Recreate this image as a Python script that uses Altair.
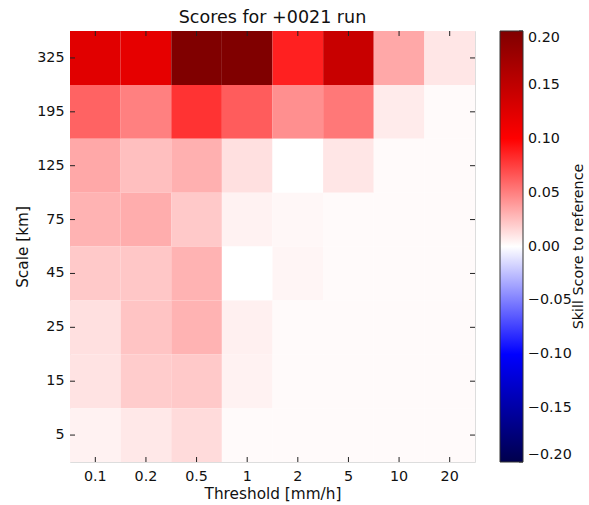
import altair as alt
import pandas as pd

thresholds = ["0.1", "0.2", "0.5", "1", "2", "5", "10", "20"]
scales = ["325", "195", "125", "75", "45", "25", "15", "5"]

row_325 = [0.124, 0.120, 0.210, 0.210, 0.0875, 0.143, 0.034, 0.010]
row_195 = [0.061, 0.050, 0.080, 0.064, 0.044, 0.053, 0.008, 0.002]
row_125 = [0.034, 0.025, 0.031, 0.012, 0.000, 0.010, 0.002, 0.002]
row_75 = [0.030, 0.032, 0.021, 0.005, 0.003, 0.002, 0.002, 0.002]
row_45 = [0.021, 0.022, 0.030, 0.000, 0.004, 0.002, 0.002, 0.002]
row_25 = [0.012, 0.023, 0.030, 0.006, 0.002, 0.002, 0.002, 0.002]
row_15 = [0.011, 0.020, 0.021, 0.005, 0.002, 0.002, 0.002, 0.002]
row_5 = [0.005, 0.009, 0.014, 0.002, 0.002, 0.002, 0.002, 0.002]

rows = [row_325, row_195, row_125, row_75, row_45, row_25, row_15, row_5]

legend_values = [-0.2, -0.15, -0.1, -0.05, 0.0, 0.05, 0.1, 0.15, 0.2]
cmap_domain = [-0.2, -0.1, 0.0, 0.1, 0.2]
cmap_colors = ["#00004c", "#0000ff", "#ffffff", "#ff0000", "#800000"]

records = []
for s, vals in zip(scales, rows):
    for t, v in zip(thresholds, vals):
        records.append({"threshold": t, "scale": s, "value": v})
df = pd.DataFrame(records)

W, H = 405, 431
FONT = "DejaVu Sans"
TXT = "#111111"
LS = 14.3
CB_X = 430
CB_W = 23

xenc = alt.X("threshold:O", sort=thresholds, title="Threshold [mm/h]",
             scale=alt.Scale(paddingInner=0, paddingOuter=0),
             axis=alt.Axis(labelAngle=0, ticks=False, domain=False, labelPadding=7,
                           titlePadding=3, labelFontSize=LS, titleFontSize=15.3,
                           labelColor=TXT, titleColor=TXT, titleFontWeight="normal"))
yenc = alt.Y("scale:O", sort=scales, title="Scale [km]",
             scale=alt.Scale(paddingInner=0, paddingOuter=0),
             axis=alt.Axis(ticks=False, domain=False, labelPadding=6, titlePadding=6,
                           labelFontSize=LS, titleFontSize=15.3, labelColor=TXT,
                           titleColor=TXT, titleFontWeight="normal"))

heat = alt.Chart(df).mark_rect().encode(
    x=xenc,
    y=yenc,
    color=alt.Color("value:Q",
                    scale=alt.Scale(domain=cmap_domain, range=cmap_colors, clamp=True,
                                    interpolate="rgb"),
                    legend=alt.Legend(orient="none", legendX=CB_X, legendY=0,
                                      direction="vertical", title=None,
                                      gradientLength=H, gradientThickness=CB_W,
                                      gradientStrokeColor="#333", gradientStrokeWidth=1,
                                      values=legend_values, format=".2f",
                                      labelFontSize=LS, labelColor=TXT,
                                      labelOffset=5, labelOverlap=False)),
)

xdf = pd.DataFrame({"threshold": thresholds})
ydf = pd.DataFrame({"scale": scales})
cdf = pd.DataFrame({"v": legend_values})

TL = 5
TC = "#222222"
tick_bottom = alt.Chart(xdf).mark_rule(color=TC, strokeWidth=1).encode(
    x=alt.X("threshold:O", sort=thresholds), y=alt.value(H - TL), y2=alt.value(H))
tick_top = alt.Chart(xdf).mark_rule(color=TC, strokeWidth=1).encode(
    x=alt.X("threshold:O", sort=thresholds), y=alt.value(0), y2=alt.value(TL))
tick_left = alt.Chart(ydf).mark_rule(color=TC, strokeWidth=1).encode(
    y=alt.Y("scale:O", sort=scales), x=alt.value(0), x2=alt.value(TL))
tick_right = alt.Chart(ydf).mark_rule(color=TC, strokeWidth=1).encode(
    y=alt.Y("scale:O", sort=scales), x=alt.value(W - TL), x2=alt.value(W))

cb_ticks = alt.Chart(cdf).mark_rule(color=TC, strokeWidth=1).encode(
    y=alt.Y("v:Q", scale=alt.Scale(domain=[-0.2, 0.2], nice=False, zero=False), axis=None),
    x=alt.value(CB_X + CB_W - 4), x2=alt.value(CB_X + CB_W),
)

cb_title = alt.Chart(pd.DataFrame({"t": ["Skill Score to reference"]})).mark_text(
    angle=270, fontSize=LS, color=TXT, font=FONT
).encode(text="t:N", x=alt.value(509), y=alt.value(H / 2))

main = alt.layer(heat, tick_bottom, tick_top, tick_left, tick_right)

chart = alt.layer(main, cb_ticks, cb_title).resolve_scale(y="independent").properties(
    width=W, height=H,
    title=alt.Title("Scores for +0021 run", fontSize=17.5, fontWeight="normal",
                    color=TXT, font=FONT, offset=4),
    autosize=alt.AutoSizeParams(type="none"),
    padding={"left": 70, "top": 31, "right": 114, "bottom": 43},
).configure_view(stroke="#333", strokeWidth=1.2).configure(font=FONT)

chart.save("out.html", embed_options={"renderer": "svg", "actions": False})
